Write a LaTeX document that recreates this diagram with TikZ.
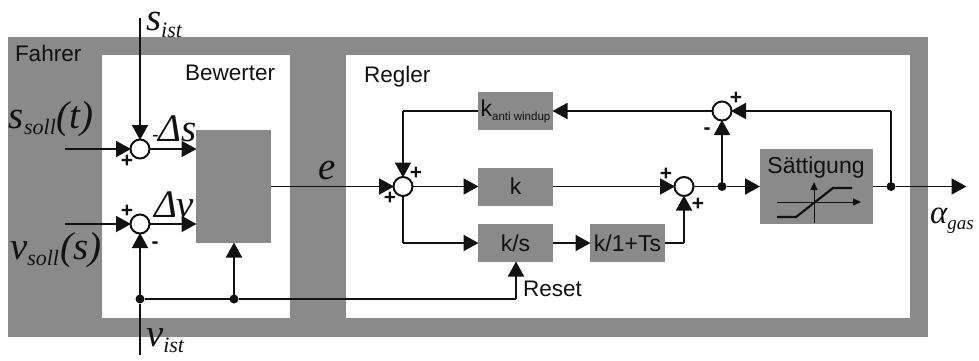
\documentclass[tikz,border=0pt]{standalone}
\usepackage{fontspec}
\setmainfont{Liberation Sans}
\newfontfamily\mathserif[ItalicFont={Liberation Serif Italic}]{Liberation Serif}
\usetikzlibrary{arrows.meta}
\definecolor{blockgray}{HTML}{8A8A8A}
\definecolor{ink}{HTML}{111111}
\newcommand{\sym}[2]{{\fontsize{39}{39}\selectfont\mathserif\itshape #1\fontsize{22}{22}\selectfont\raisebox{-6pt}{#2}}}
\tikzset{
  x=1pt,y=-1pt,
  every node/.style={text=ink,inner sep=0pt,outer sep=0pt},
  panel/.style={fill=white},
  block/.style={fill=blockgray,minimum width=75pt,minimum height=38pt,font=\fontsize{23}{23}\selectfont},
  sumnode/.style={circle,draw=ink,line width=2pt,fill=white,minimum size=19pt},
  dotnode/.style={circle,fill=ink,minimum size=9pt},
  conn/.style={draw=ink,line width=1.9pt},
  arr/.style={conn,-{Triangle[length=15pt,width=16pt]},shorten >=-0.5pt},
  title/.style={font=\fontsize{22.5}{22.5}\selectfont,anchor=base west},
  sign/.style={font=\bfseries\fontsize{21}{21}\selectfont},
  mathlabel/.style={anchor=base west}
}
\begin{document}
\begin{tikzpicture}
\useasboundingbox (0,0) rectangle (979,361);
\fill[white] (0,0) rectangle (979,361);
% panels
\fill[blockgray] (8,37) rectangle (928,337);
\fill[panel] (102,55) rectangle (290,318);
\fill[panel] (346,55) rectangle (910,318);
% titles
\node[title] (tfahrer) at (15,61) {Fahrer};
\node[title] (tbew) at (185,81) {Bewerter};
\node[title] (tregler) at (364,82) {Regler};
% free text behind connectors
\node[mathlabel] (lds) at (152,141) {\fontsize{20}{20}\selectfont -\fontsize{39}{39}\selectfont\mathserif\itshape Δs};
\node[mathlabel] (ldv) at (154,217) {\fontsize{39}{39}\selectfont\mathserif\itshape Δv};
% blocks
\node[fill=blockgray,minimum width=75pt,minimum height=113pt] (bew) at (233.5,186.5) {};
\node[block] (kaw) at (515.5,111) {k\raisebox{-4pt}{\fontsize{11.5}{11.5}\selectfont anti windup}};
\node[block] (kk) at (515.5,186.5) {k};
\node[block] (ks) at (515.5,243) {k/s};
\node[block] (kt) at (627.5,243) {k/1+Ts};
\node[fill=blockgray,minimum width=113pt,minimum height=75pt] (sat) at (816,186.5) {};
\node[font=\fontsize{23}{23}\selectfont,anchor=base] (tsat) at (816,173) {Sättigung};
% sums
\node[sumnode] (s1) at (140,149) {};
\node[sumnode] (s2) at (140,224) {};
\node[sumnode] (s3) at (403,186.5) {};
\node[sumnode] (s4) at (684,186.5) {};
\node[sumnode] (s5) at (722,111) {};
% junctions
\node[dotnode] (j1) at (140,299) {};
\node[dotnode] (j2) at (234,299) {};
\node[dotnode] (j3) at (722,186.5) {};
\node[dotnode] (j4) at (891,186.5) {};
% free ends
\coordinate (sist) at (140,18);
\coordinate (vist) at (140,355);
\coordinate (ssoll) at (65,149);
\coordinate (vsoll) at (65,224);
\coordinate (out) at (966,186.5);
\coordinate (c1) at (403,111);
\coordinate (c2) at (403,243);
\coordinate (c3) at (684,243);
\coordinate (c4) at (891,111);
\coordinate (c5) at (516,299);
% connectors
\draw[arr] (sist) -- (s1);
\draw[arr] (ssoll) -- (s1);
\draw[arr] (vsoll) -- (s2);
\draw[arr] (s1) -- (s1-|bew.west);
\draw[arr] (s2) -- (s2-|bew.west);
\draw[arr] (j1) -- (s2);
\draw[conn] (vist) -- (j1);
\draw[conn] (j1) -- (j2);
\draw[arr] (j2) -- (j2|-bew.south);
\draw[conn] (j2) -- (c5);
\draw[arr] (c5) -- (ks.south-|c5);
\draw[arr] (bew.east|-s3) -- (s3);
\draw[arr] (s3) -- (kk);
\draw[conn] (s3) -- (c2);
\draw[arr] (c2) -- (ks);
\draw[arr] (ks) -- (kt);
\draw[conn] (kt) -- (c3);
\draw[arr] (c3) -- (s4);
\draw[arr] (kk) -- (s4);
\draw[conn] (s4) -- (j3);
\draw[arr] (j3) -- (sat);
\draw[arr] (j3) -- (s5);
\draw[conn] (sat) -- (j4);
\draw[arr] (j4) -- (out);
\draw[conn] (j4) -- (c4);
\draw[arr] (c4) -- (s5);
\draw[arr] (s5) -- (kaw);
\draw[conn] (kaw) -- (c1);
\draw[arr] (c1) -- (s3);
% saturation icon
\coordinate (ia) at (777,202);
\coordinate (ib) at (861,202);
\coordinate (ic) at (814,223);
\coordinate (id) at (814,182);
\draw[draw=ink,line width=1pt,-{Triangle[length=8pt,width=7pt]}] (ia) -- (ib);
\draw[draw=ink,line width=1pt,-{Triangle[length=8pt,width=7pt]}] (ic) -- (id);
\draw[draw=ink,line width=2.2pt] (777,217) -- (796,217) -- (833,188) -- (852,188);
% signs
\node[sign] at (127,161) {+};
\node[sign] at (127,211) {+};
\node[sign] at (155,245) {-};
\node[sign] at (390,198) {+};
\node[sign] at (416,173) {+};
\node[sign] at (666,174) {+};
\node[sign] at (698,204) {+};
\node[sign] at (707,131) {-};
\node[sign] at (736,98) {+};
% text labels
\node[title] (treset) at (523,296) {Reset};
\node[mathlabel] (lsist) at (146,31) {\sym{s}{ist}};
\node[mathlabel] (lvist) at (146,346) {\sym{v}{ist}};
\node[mathlabel] (le) at (318,179) {\sym{e}{}};
\node[mathlabel] (lssoll) at (9,128) {\sym{s}{soll}\fontsize{39}{39}\selectfont\mathserif\itshape\kern1pt(t)};
\node[mathlabel] (lvsoll) at (10,259) {\sym{v}{soll}\fontsize{39}{39}\selectfont\mathserif\itshape\kern1pt(s)};
\node[mathlabel] (lalpha) at (930,223) {\fontsize{33}{33}\selectfont\mathserif\itshape α\fontsize{19}{19}\selectfont\raisebox{-6pt}{gas}};
\end{tikzpicture}
\end{document}
